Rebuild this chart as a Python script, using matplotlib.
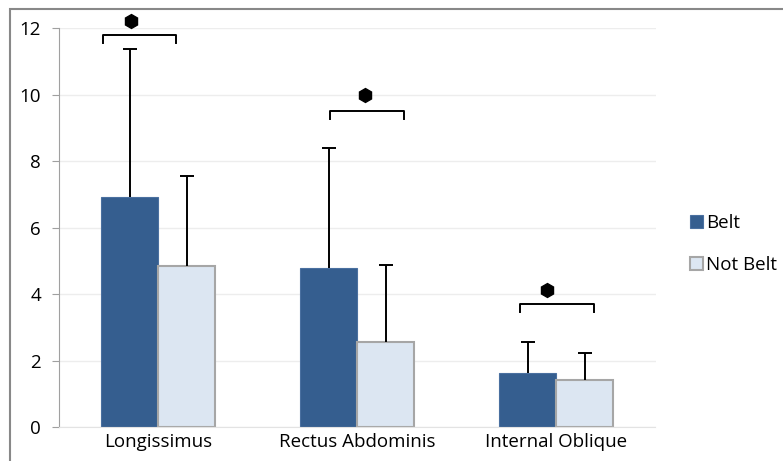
import matplotlib.pyplot as plt
import matplotlib.patches as mpatches
import numpy as np

plt.rcParams['font.family'] = ['Open Sans', 'DejaVu Sans']

muscles = ['Longissimus', 'Rectus Abdominis', 'Internal Oblique']
belt = [6.92, 4.77, 1.62]
belt_sd = [4.45, 3.63, 0.93]
not_belt = [4.83, 2.55, 1.41]
not_belt_sd = [2.73, 2.31, 0.81]

# significance brackets: (left, right, top, tick bottom, star x, star y)
brackets = [(-0.28, 0.09, 11.79, 11.55, -0.14, 12.21),
            (0.865, 1.235, 9.5, 9.26, 1.04, 9.98),
            (1.82, 2.19, 3.71, 3.47, 1.955, 4.13)]

fig = plt.figure(figsize=(7.83, 4.61), dpi=100)
ax = fig.add_axes([59 / 783, 1 - 427 / 461, (655.5 - 59) / 783, (427 - 28) / 461])

x = np.arange(len(muscles))
w = 0.287
ax.bar(x - w / 2, belt, w, color='#355E8F', edgecolor='#4A70A0', linewidth=0.8,
       label='Belt', zorder=2)
ax.bar(x + w / 2, not_belt, w, color='#DCE6F2', edgecolor='#A6A6A6', linewidth=1.5,
       label='Not Belt', zorder=2)

# upper-only error bars
cap = 0.035
for xs, vals, sds in [(x - w / 2, belt, belt_sd), (x + w / 2, not_belt, not_belt_sd)]:
    tops = np.array(vals) + np.array(sds)
    ax.vlines(xs, vals, tops, color='black', lw=1.4, zorder=3)
    ax.hlines(tops, xs - cap, xs + cap, color='black', lw=1.4, zorder=3)

for l, r, top, bot, sx, sy in brackets:
    ax.plot([l, l, r, r], [bot, top, top, bot], color='black', lw=1.4, zorder=3,
            clip_on=False)
    ax.plot(sx, sy, marker='h', ms=10, color='black', zorder=3, clip_on=False)

ax.set_xlim(-0.5, 2.5)
ax.set_ylim(0, 12)
ax.set_yticks(range(0, 13, 2))
ax.set_xticks(x)
ax.set_xticklabels(muscles)
ax.yaxis.grid(True, color='#EDEDED', lw=1)
ax.set_axisbelow(True)
for s in ['top', 'right']:
    ax.spines[s].set_visible(False)
ax.spines['bottom'].set_color('#E3E3E3')
ax.spines['left'].set_color('#A0A0A0')
ax.tick_params(axis='y', length=5, color='#A0A0A0', labelsize=13.5, pad=8)
ax.tick_params(axis='x', length=0, labelsize=13.5, pad=4)

fig.legend(loc='center left', bbox_to_anchor=(673 / 783, 1 - 244 / 461), frameon=False,
           fontsize=13.5, handlelength=0.7, handleheight=0.7, handletextpad=0.15,
           labelspacing=1.3)

fig.patches.append(mpatches.Rectangle((10 / 783, -0.1), 1.2, 1.1 - 9.5 / 461,
                                      transform=fig.transFigure, fill=False,
                                      edgecolor='#888888', lw=1.5))

fig.savefig('out.png', dpi=100)
